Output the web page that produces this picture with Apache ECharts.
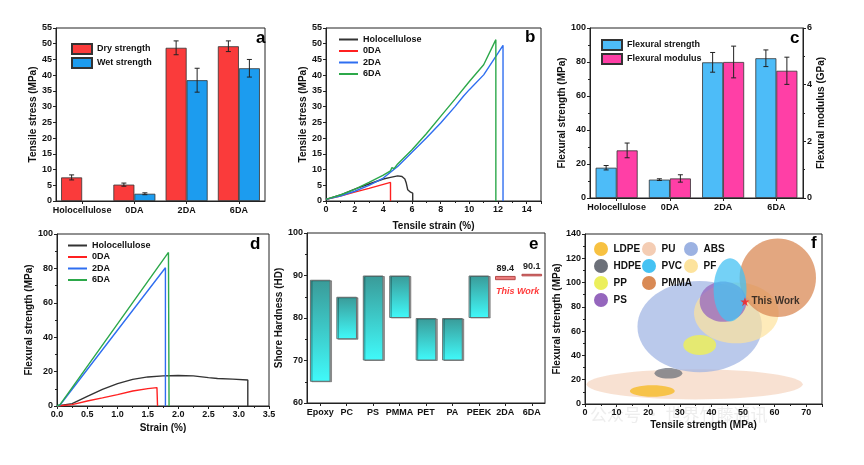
<!DOCTYPE html>
<html><head><meta charset="utf-8">
<script src="https://cdn.jsdelivr.net/npm/echarts@6/dist/echarts.min.js"></script>
<style>html,body{margin:0;padding:0;background:#fff}#c{width:864px;height:465px}</style>
</head><body><div id="c"></div>
<script>
// ---------- DATA ----------
// Panel a
const catsA = ['Holocellulose','0DA','2DA','6DA'];
const dryStrength = [7.5, 5.2, 48.7, 49.2];
const dryStrengthErr = [0.8, 0.5, 2.2, 1.7];
const wetStrength = ['-', 2.3, 38.4, 42.2];
const wetStrengthErr = [0, 0.3, 3.8, 2.8];
// Panel b (strain %, stress MPa)
const tensileHolo = [[0,0.5],[1,1.9],[2,3.8],[3,5.4],[4,7],[4.5,7.5],[5,8],[5.3,7.8],[5.5,7],[5.6,5.7],[5.7,3.6],[5.9,2.8],[6.05,2.5],[6.05,0]];
const tensile0DA = [[0,0.5],[1,1.6],[2,2.8],[3,4],[4,5.3],[4.5,5.9],[4.5,0]];
const tensile2DA = [[0,0.5],[1,1.6],[2,3.1],[3,5],[4,7.3],[5,11],[6,15.5],[7,20],[8,24.8],[9,30],[9.6,33.4],[10,35.4],[11,40.1],[12,47],[12.35,49.5],[12.35,0]];
const tensile6DA = [[0,0.5],[1,1.9],[2,3.7],[3,5.9],[4,8.2],[4.5,9.6],[4.6,10.6],[4.75,10.3],[5,11.8],[6,16.3],[7,21.4],[8,26.9],[9,32.4],[10,38],[11,43.3],[11.85,51.3],[11.85,0]];
// Panel c
const catsC = ['Holocellulose','0DA','2DA','6DA'];
const flexStrength = [17.8, 10.8, 79.8, 82.2];
const flexStrengthErr = [1.3, 0.5, 5.8, 4.9];
const flexModulus = [1.68, 0.69, 4.8, 4.49];
const flexModulusErr = [0.26, 0.13, 0.56, 0.48];
// Panel d (strain %, flexural MPa)
const flexHolo = [[0,0],[0.25,1.4],[0.5,5.6],[0.75,9.7],[1,13],[1.25,15.5],[1.5,16.9],[1.75,17.5],[2,17.7],[2.25,17.5],[2.5,16.5],[2.65,16],[2.9,15.6],[3.15,15.1],[3.15,0]];
const flex0DA = [[0,0],[0.25,0.8],[0.5,2.9],[0.75,4.7],[1,6.6],[1.25,8.7],[1.5,10.1],[1.65,10.7],[1.66,0]];
const flex2DA = [[0,0],[0.05,0.6],[1.79,80.4],[1.79,0]];
const flex6DA = [[0,0],[0.05,0.8],[1.84,89.3],[1.85,0]];
// Panel e
const catsE = ['Epoxy','PC','PS','PMMA','PET','PA','PEEK','2DA','6DA'];
const hardLow = [65, 75, 70, 80, 70, 70, 80, 88.9, 89.8];
const hardHigh = [89, 85, 90, 90, 80, 80, 90, 89.9, 90.4];
const hardLabel = ['', '', '', '', '', '', '', '89.4', '90.1'];
// Panel f (tensile strength MPa, flexural strength MPa, half-width, half-height)
const matNames = ['PU','LDPE','HDPE','ABS','PP','PF','PMMA','PS','PVC'];
const matCx = [34.7, 21.3, 26.4, 36.3, 36.3, 47.9, 61, 43.7, 45.9];
const matCy = [16.2, 10.7, 25.3, 63.7, 48.6, 75, 104, 84.3, 94];
const matRx = [34.2, 7.1, 4.4, 19.7, 5.2, 13.4, 12.1, 7.4, 5.2];
const matRy = [12.5, 4.8, 4.4, 37.5, 8.2, 25, 32.3, 16.5, 26];
const thisWork = [50.6, 84.3];

// ---------- STYLE ----------
const FONT = '"Liberation Sans", Arial, sans-serif';
const matColor = {PU:'#f4cdb4', LDPE:'#f7c141', HDPE:'#6c7079', ABS:'#9cb2e2', PP:'#ecef5c', PF:'#fde39d', PMMA:'#d98a55', PS:'#9566bd', PVC:'#45c2f3'};
const matOpacity = {PU:0.6, LDPE:0.95, HDPE:0.75, ABS:0.7, PP:0.85, PF:0.7, PMMA:0.75, PS:0.75, PVC:0.75};
const lineColors = ['#333333','#ff2020','#2f6ef0','#2ca84a'];

const lab = {color:'#111', fontFamily:FONT, fontWeight:'bold', fontSize:9};
const nameStyle = {color:'#111', fontFamily:FONT, fontWeight:'bold', fontSize:10};
const axLine = {show:true, lineStyle:{color:'#222', width:1}};
function vAxis(gi, extra) {
  return Object.assign({
    type:'value', gridIndex:gi, axisLine:axLine,
    axisTick:{show:true, length:3, lineStyle:{color:'#222'}},
    minorTick:{show:true, splitNumber:2, length:2, lineStyle:{color:'#222'}},
    splitLine:{show:false}, axisLabel:Object.assign({margin:4}, lab),
    nameLocation:'middle', nameTextStyle:nameStyle
  }, extra);
}
function cAxis(gi, cats, extra) {
  return Object.assign({
    type:'category', gridIndex:gi, data:cats, axisLine:axLine,
    axisTick:{show:true, alignWithLabel:true, length:3, lineStyle:{color:'#222'}},
    splitLine:{show:false}, axisLabel:Object.assign({margin:5, interval:0}, lab)
  }, extra);
}
function errSeries(xi, yi, means, errs, offset) {
  const data = [];
  means.forEach((m, i) => { if (typeof m === 'number' && errs[i] > 0) data.push([i, m - errs[i], m + errs[i]]); });
  return {
    type:'custom', xAxisIndex:xi, yAxisIndex:yi, silent:true, z:5, data,
    renderItem(params, api) {
      const lo = api.coord([api.value(0), api.value(1)]);
      const hi = api.coord([api.value(0), api.value(2)]);
      const x = lo[0] + offset, c = 2.5;
      const st = {stroke:'#222', lineWidth:1};
      return {type:'group', children:[
        {type:'line', shape:{x1:x, y1:lo[1], x2:x, y2:hi[1]}, style:st},
        {type:'line', shape:{x1:x-c, y1:lo[1], x2:x+c, y2:lo[1]}, style:st},
        {type:'line', shape:{x1:x-c, y1:hi[1], x2:x+c, y2:hi[1]}, style:st}
      ]};
    }
  };
}
function lineSeries(name, xi, yi, data, color) {
  return {type:'line', name, xAxisIndex:xi, yAxisIndex:yi, data, symbol:'none', showSymbol:false,
    lineStyle:{color, width:1.4}, itemStyle:{color}};
}
const gridBox = {show:true, borderColor:'#222', borderWidth:1, backgroundColor:'transparent'};
const BW = 21;

const chart = echarts.init(document.getElementById('c'), null, {renderer:'canvas'});

const series = [];
// a
series.push({type:'bar', name:'Dry strength', xAxisIndex:0, yAxisIndex:0, data:dryStrength, barWidth:BW, barGap:'0%',
  itemStyle:{color:'#fa3b3b', borderColor:'#333', borderWidth:0.8}});
series.push({type:'bar', name:'Wet strength', xAxisIndex:0, yAxisIndex:0, data:wetStrength, barWidth:BW, barGap:'0%',
  itemStyle:{color:'#1c9cef', borderColor:'#333', borderWidth:0.8}});
series.push(errSeries(0, 0, dryStrength, dryStrengthErr, -BW/2));
series.push(errSeries(0, 0, wetStrength, wetStrengthErr, BW/2));
// b
series.push(lineSeries('Holocellulose', 1, 1, tensileHolo, lineColors[0]));
series.push(lineSeries('0DA', 1, 1, tensile0DA, lineColors[1]));
series.push(lineSeries('2DA', 1, 1, tensile2DA, lineColors[2]));
series.push(lineSeries('6DA', 1, 1, tensile6DA, lineColors[3]));
// c
series.push({type:'bar', name:'Flexural strength', xAxisIndex:2, yAxisIndex:2, data:flexStrength, barWidth:BW, barGap:'0%',
  itemStyle:{color:'#4dbcf8', borderColor:'#333', borderWidth:0.8}});
series.push({type:'bar', name:'Flexural modulus', xAxisIndex:2, yAxisIndex:3, data:flexModulus, barWidth:BW, barGap:'0%',
  itemStyle:{color:'#ff3fa6', borderColor:'#333', borderWidth:0.8}});
series.push(errSeries(2, 2, flexStrength, flexStrengthErr, -BW/2));
series.push(errSeries(2, 3, flexModulus, flexModulusErr, BW/2));
// d
series.push(lineSeries('Holocellulose', 3, 4, flexHolo, lineColors[0]));
series.push(lineSeries('0DA', 3, 4, flex0DA, lineColors[1]));
series.push(lineSeries('2DA', 3, 4, flex2DA, lineColors[2]));
series.push(lineSeries('6DA', 3, 4, flex6DA, lineColors[3]));
// e
series.push({type:'bar', xAxisIndex:4, yAxisIndex:5, stack:'hard', data:hardLow, barWidth:'78%', silent:true,
  itemStyle:{color:'rgba(0,0,0,0)'}});
series.push({type:'bar', xAxisIndex:4, yAxisIndex:5, stack:'hard', barWidth:'78%',
  data: hardHigh.map((h, i) => {
    const isWork = hardLabel[i] !== '';
    return {
      value: +(h - hardLow[i]).toFixed(2),
      itemStyle: isWork ? {color:'#ea7b7b', borderColor:'#b54848', borderWidth:1} : {
        color:{type:'linear', x:0, y:0, x2:0, y2:1, colorStops:[{offset:0, color:'#3a9a98'},{offset:1, color:'#40fafa'}]},
        borderColor:'#6a7070', borderWidth:1, shadowColor:'rgba(0,0,0,0.35)', shadowOffsetX:1.5, shadowOffsetY:0.5, shadowBlur:0},
      label: {show:isWork, position:'top', distance:3, formatter:hardLabel[i], color:'#222', fontFamily:FONT, fontWeight:'bold', fontSize:9}
    };
  })});
// f
matNames.forEach((nm, i) => {
  series.push({type:'custom', name:nm, xAxisIndex:5, yAxisIndex:6, silent:true,
    itemStyle:{color:matColor[nm]}, color:matColor[nm],
    data:[[matCx[i], matCy[i], matRx[i], matRy[i]]],
    renderItem(params, api) {
      const c = api.coord([api.value(0), api.value(1)]);
      const s = api.size([api.value(2), api.value(3)]);
      return {type:'ellipse', shape:{cx:c[0], cy:c[1], rx:s[0], ry:s[1]},
        style:{fill:matColor[nm], opacity:matOpacity[nm]}};
    }});
});
series.push({type:'scatter', xAxisIndex:5, yAxisIndex:6, z:10, data:[thisWork],
  symbol:'path://M0,-10 L2.35,-3.24 9.51,-3.09 3.8,1.24 5.88,8.09 0,4 -5.88,8.09 -3.8,1.24 -9.51,-3.09 -2.35,-3.24Z',
  symbolSize:9, itemStyle:{color:'#ff1a1a'},
  label:{show:true, position:'right', distance:2, formatter:'This Work', color:'#111', fontFamily:FONT, fontWeight:'bold', fontSize:10}});

const legText = {color:'#111', fontFamily:FONT, fontWeight:'bold', fontSize:9};
const legTextF = {color:'#111', fontFamily:FONT, fontWeight:'bold', fontSize:10};
const option = {
  animation:false,
  backgroundColor:'#fff',
  grid:[
    Object.assign({left:56, top:28, width:209, height:173}, gridBox),
    Object.assign({left:326, top:28, width:215, height:173}, gridBox),
    Object.assign({left:590, top:28, width:213, height:170}, gridBox),
    Object.assign({left:57, top:234, width:212, height:172}, gridBox),
    Object.assign({left:307, top:233, width:238, height:170}, gridBox),
    Object.assign({left:585, top:234, width:237, height:170}, gridBox)
  ],
  xAxis:[
    cAxis(0, catsA),
    vAxis(1, {min:0, max:15, interval:2, name:'Tensile strain (%)', nameGap:20,
      axisLabel:Object.assign({margin:4, showMaxLabel:false, formatter:v => (v % 2 === 0 ? String(v) : '')}, lab)}),
    cAxis(2, catsC),
    vAxis(3, {min:0, max:3.5, interval:0.5, name:'Strain (%)', nameGap:17,
      axisLabel:Object.assign({margin:4, formatter:v => v.toFixed(1)}, lab)}),
    cAxis(4, catsE),
    vAxis(5, {min:0, max:75, interval:10, name:'Tensile strength (MPa)', nameGap:16,
      axisLabel:Object.assign({margin:4, showMaxLabel:false}, lab)})
  ],
  yAxis:[
    vAxis(0, {min:0, max:55, interval:5, name:'Tensile stress (MPa)', nameGap:14, minorTick:{show:false}}),
    vAxis(1, {min:0, max:55, interval:5, name:'Tensile stress (MPa)', nameGap:17, minorTick:{show:false}}),
    vAxis(2, {min:0, max:100, interval:20, name:'Flexural strength (MPa)', nameGap:19}),
    vAxis(2, {min:0, max:6, interval:2, position:'right', name:'Flexural modulus (GPa)', nameGap:13}),
    vAxis(3, {min:0, max:100, interval:20, name:'Flexural strength (MPa)', nameGap:17}),
    vAxis(4, {min:60, max:100, interval:10, name:'Shore Hardness (HD)', nameGap:22}),
    vAxis(5, {min:0, max:140, interval:20, name:'Flexural strength (MPa)', nameGap:21})
  ],
  legend:[
    {data:['Dry strength','Wet strength'], left:66, top:38, orient:'vertical', itemWidth:20, itemHeight:10, itemGap:2, icon:'rect', textStyle:legText, selectedMode:false},
    {data:['Holocellulose','0DA','2DA','6DA'], left:334, top:30, orient:'vertical', itemWidth:19, itemHeight:2, itemGap:2.5, icon:'rect', textStyle:legText, selectedMode:false},
    {data:['Flexural strength','Flexural modulus'], left:596, top:34, orient:'vertical', itemWidth:20, itemHeight:10, itemGap:2, icon:'rect', textStyle:legText, selectedMode:false},
    {data:['Holocellulose','0DA','2DA','6DA'], left:63, top:236, orient:'vertical', itemWidth:19, itemHeight:2, itemGap:2.5, icon:'rect', textStyle:legText, selectedMode:false},
    {data:['LDPE','HDPE','PP','PS'], left:589, top:237, orient:'vertical', itemWidth:15, itemHeight:14, itemGap:3, icon:'circle', textStyle:legTextF, selectedMode:false},
    {data:['PU','PVC','PMMA'], left:637, top:237, orient:'vertical', itemWidth:15, itemHeight:14, itemGap:3, icon:'circle', textStyle:legTextF, selectedMode:false},
    {data:['ABS','PF'], left:679, top:237, orient:'vertical', itemWidth:15, itemHeight:14, itemGap:3, icon:'circle', textStyle:legTextF, selectedMode:false}
  ],
  graphic:[
    {type:'text', left:590, top:406, z:-1, style:{text:'公众号 · 世界竹藤通讯', fill:'rgba(225,225,225,0.6)', font:'17px "Noto Sans CJK SC"'}},
    {type:'text', left:256, top:30, style:{text:'a', fill:'#000', font:'bold 17px ' + FONT}},
    {type:'text', left:525, top:29, style:{text:'b', fill:'#000', font:'bold 17px ' + FONT}},
    {type:'text', left:790, top:30, style:{text:'c', fill:'#000', font:'bold 17px ' + FONT}},
    {type:'text', left:250, top:236, style:{text:'d', fill:'#000', font:'bold 17px ' + FONT}},
    {type:'text', left:529, top:236, style:{text:'e', fill:'#000', font:'bold 17px ' + FONT}},
    {type:'text', left:811, top:235, style:{text:'f', fill:'#000', font:'bold 17px ' + FONT}},
    {type:'text', left:496, top:287, style:{text:'This Work', fill:'#ff3b3b', font:'italic bold 9px ' + FONT}}
  ],
  series
};
chart.setOption(option);
</script></body></html>
